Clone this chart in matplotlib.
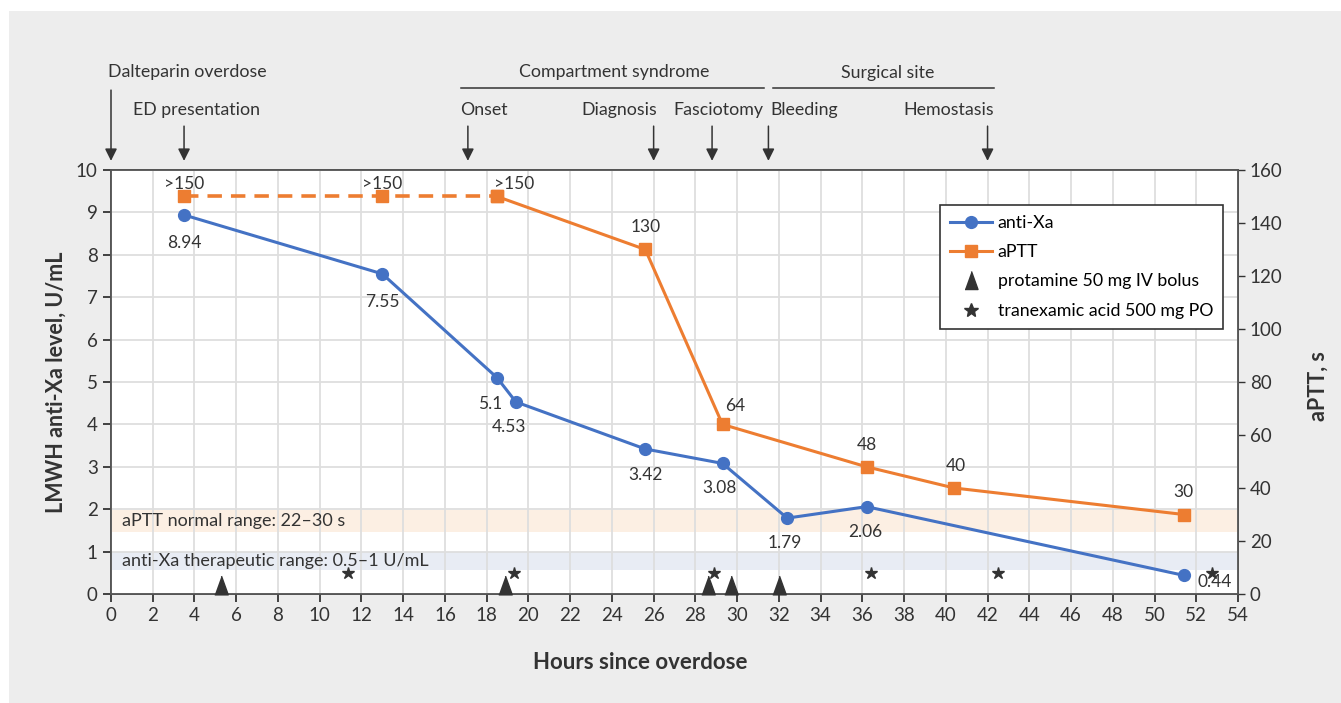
import matplotlib.pyplot as plt
from matplotlib.patches import Rectangle
from matplotlib.lines import Line2D

plt.rcParams['font.family'] = ['Lato', 'DejaVu Sans']

# data
xa_hours = [3.5, 13.0, 18.5, 19.4, 25.6, 29.3, 32.4, 36.2, 51.4]
xa_level = [8.94, 7.55, 5.1, 4.53, 3.42, 3.08, 1.79, 2.06, 0.44]
xa_labels = ['8.94', '7.55', '5.1', '4.53', '3.42', '3.08', '1.79', '2.06', '0.44']

aptt_hours = [3.5, 13.0, 18.5, 25.6, 29.3, 36.2, 40.4, 51.4]
aptt_sec = [150, 150, 150, 130, 64, 48, 40, 30]
aptt_labels = ['>150', '>150', '>150', '130', '64', '48', '40', '30']

protamine_hours = [5.27, 18.9, 28.6, 29.7, 32.0]
txa_hours = [11.36, 19.3, 28.9, 36.4, 42.5, 52.75]

event_hours = [0, 3.5, 17.1, 26.0, 28.8, 31.5, 42.0]
event_names = ['Dalteparin overdose', 'ED presentation', 'Onset', 'Diagnosis',
               'Fasciotomy', 'Bleeding', 'Hemostasis']

blue = '#4472C4'
orange = '#ED7D31'
dark = '#333333'
tri = [(-0.72, -1), (0.72, -1), (0, 1)]

fig = plt.figure(figsize=(13.41, 7.03), dpi=100, facecolor='white')
fig.patches.append(Rectangle((9 / 1341, 0), 1, 1 - 11 / 703, transform=fig.transFigure,
                             facecolor='#ededed', edgecolor='none', zorder=0))

ax = fig.add_axes([111 / 1341, 109 / 703, 1127 / 1341, 424 / 703])
ax2 = ax.twinx()
ax.set_zorder(2)
ax2.set_zorder(1)
ax.patch.set_facecolor('none')
ax2.patch.set_facecolor('white')
ax2.patch.set_visible(True)

ax.set_xlim(0, 54)
ax.set_ylim(0, 10)
ax2.set_ylim(0, 160)
ax.set_xticks(range(0, 55, 2))
ax.set_yticks(range(0, 11))
ax2.set_yticks(range(0, 161, 20))
ax.grid(True, color='#dedede', lw=1.3, zorder=0)
ax.set_axisbelow(True)

# reference bands
ax.axhspan(1.47, 1.98, color='#fcefe3', zorder=0.5, lw=0)
ax.axhspan(0.57, 1.0, color='#e8ecf4', zorder=0.5, lw=0)
ax.text(0.55, 1.73, 'aPTT normal range: 22\u201330 s', fontsize=13, color=dark, va='center')
ax.text(0.55, 0.79, 'anti-Xa therapeutic range: 0.5\u20131 U/mL', fontsize=13, color=dark, va='center')

# anti-Xa
ax.plot(xa_hours, xa_level, color=blue, lw=2.2, marker='o', ms=8.5, zorder=4)
xa_off = [(0, -20), (0, -20), (-5, -19), (-5, -18), (0, -19), (-2, -18), (-2, -18), (-1, -18), (22, -5)]
for x, y, t, o in zip(xa_hours, xa_level, xa_labels, xa_off):
    ax.annotate(t, (x, y), xytext=o, textcoords='offset points', ha='center', va='center',
                fontsize=12.5, color=dark, zorder=6)

# aPTT, plotted on left scale (160 s = 10)
aptt_y = [v / 16 for v in aptt_sec]
ax.plot(aptt_hours[:3], aptt_y[:3], color=orange, lw=2.6, ls=(0, (4, 2.5)), marker='s', ms=8, zorder=4)
ax.plot(aptt_hours[2:], aptt_y[2:], color=orange, lw=2.2, marker='s', ms=8, zorder=4)
aptt_off = [(0, 9), (0, 9), (12, 9), (0, 16), (9, 13), (0, 16), (1, 16), (0, 16)]
for x, y, t, o in zip(aptt_hours, aptt_y, aptt_labels, aptt_off):
    ax.annotate(t, (x, y), xytext=o, textcoords='offset points', ha='center', va='center',
                fontsize=12.5, color=dark, zorder=6)

ax.plot(protamine_hours, [0.22] * len(protamine_hours), ls='none', marker=tri, ms=13.5,
        color=dark, zorder=5, clip_on=False)
ax.plot(txa_hours, [0.5] * len(txa_hours), ls='none', marker='*', ms=9, color=dark, zorder=5)

# spines and ticks
for a in (ax, ax2):
    for s in a.spines.values():
        s.set_color('#555555')
        s.set_linewidth(1.3)
ax.tick_params(axis='both', labelsize=13.5, colors=dark, length=6, width=1.3, direction='out')
ax2.tick_params(axis='y', labelsize=13.5, colors=dark, length=5, width=1, direction='out')

ax.set_xlabel('Hours since overdose', fontsize=16, fontweight='bold', color=dark)
ax.xaxis.set_label_coords(0.47, -0.137)
ax.set_ylabel('LMWH anti-Xa level, U/mL', fontsize=15.5, fontweight='bold', color=dark)
ax.yaxis.set_label_coords(-0.039, 0.5)
ax2.set_ylabel('aPTT, s', fontsize=15.5, fontweight='bold', color=dark)
ax2.yaxis.set_label_coords(1.062, 0.49)

# event arrows above the plot
arrow_top = [1.95, 1.1] + [1.1] * 5
for x, top in zip(event_hours, arrow_top):
    ax.annotate('', xy=(x, 10.15), xytext=(x, 10 + top), xycoords='data',
                arrowprops=dict(arrowstyle='-|>', color=dark, lw=1.1, mutation_scale=18),
                annotation_clip=False)

tx = ax.text
ty1 = 10 + 2.32
ty2 = 10 + 1.42
fs = 12.8
tx(-0.15, ty1, event_names[0], fontsize=fs, color=dark, va='center', ha='left', clip_on=False)
tx(1.05, ty2, event_names[1], fontsize=fs, color=dark, va='center', ha='left', clip_on=False)
tx(16.75, ty2, event_names[2], fontsize=fs, color=dark, va='center', ha='left', clip_on=False)
tx(26.15, ty2, event_names[3], fontsize=fs, color=dark, va='center', ha='right', clip_on=False)
tx(26.95, ty2, event_names[4], fontsize=fs, color=dark, va='center', ha='left', clip_on=False)
tx(31.6, ty2, event_names[5], fontsize=fs, color=dark, va='center', ha='left', clip_on=False)
tx(42.3, ty2, event_names[6], fontsize=fs, color=dark, va='center', ha='right', clip_on=False)

# group headers
gy = 10 + 1.93
ax.plot([16.75, 31.3], [gy, gy], color=dark, lw=1.1, clip_on=False)
ax.plot([31.7, 42.3], [gy, gy], color=dark, lw=1.1, clip_on=False)
tx(24.1, gy + 0.38, 'Compartment syndrome', fontsize=fs, color=dark, ha='center', va='center')
tx(37.2, gy + 0.35, 'Surgical site', fontsize=fs, color=dark, ha='center', va='center')

handles = [
    Line2D([], [], color=blue, lw=2.2, marker='o', ms=8.5),
    Line2D([], [], color=orange, lw=2.2, marker='s', ms=8),
    Line2D([], [], color=dark, ls='none', marker=tri, ms=13),
    Line2D([], [], color=dark, ls='none', marker='*', ms=10),
]
leg = ax.legend(handles, ['anti-Xa', 'aPTT', 'protamine 50 mg IV bolus', 'tranexamic acid 500 mg PO'],
                loc='upper left', bbox_to_anchor=(829 / 1127, 1 - 35 / 424), borderaxespad=0,
                fontsize=12.8, frameon=True, fancybox=False, edgecolor='#333333', framealpha=1,
                handlelength=2.4, handletextpad=0.3, labelspacing=0.75, borderpad=0.55)
leg.get_frame().set_linewidth(1.2)
leg.set_zorder(10)

fig.savefig('out.png', dpi=100, facecolor=fig.get_facecolor())
